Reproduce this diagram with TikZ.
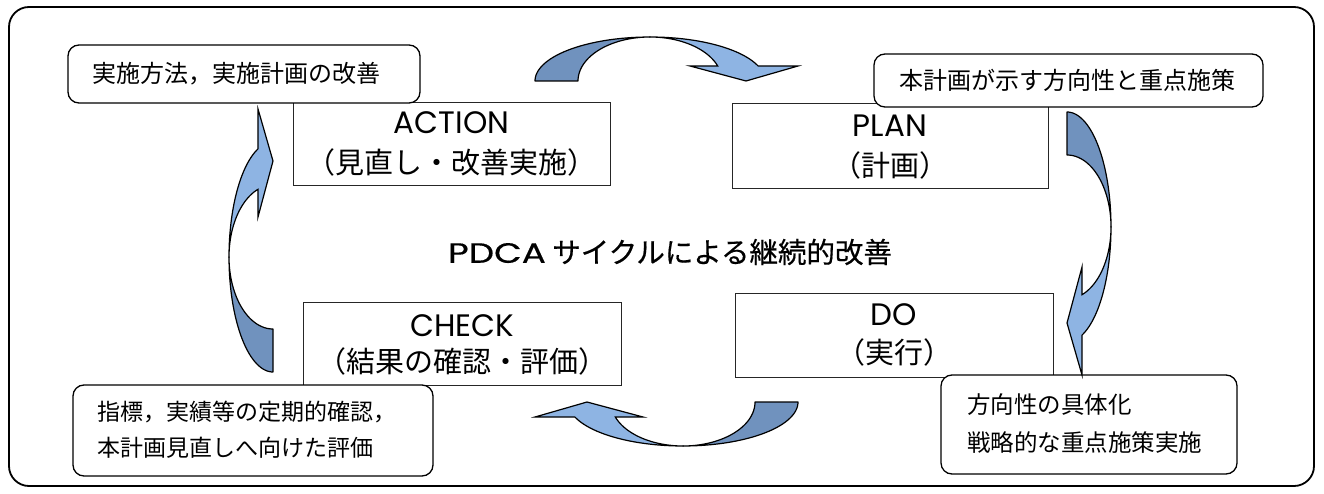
\documentclass[tikz,border=0pt]{standalone}
\usepackage{fontspec}
\setmainfont{Noto Sans CJK JP}
\newfontfamily\latfont{Poppins}
\newfontfamily\titlelat[FakeStretch=1.28,FakeBold=0.4]{Poppins}
\newfontfamily\titlecjk[FakeBold=0.5]{Noto Sans CJK JP}
\definecolor{darkb}{RGB}{112,146,190}
\definecolor{lightb}{RGB}{142,180,227}
\newcommand\fsz[1]{\fontsize{#1}{#1}\selectfont}
\newcommand\cyclearrow[3]{%
\begin{scope}[shift={#1}, x={#2}, y={#3}]
 \filldraw[darkpart] plot[domain=180:90,samples=40] ({115*cos(\x)},{44*sin(\x)}) -- plot[domain=90:180,samples=40] ({72*cos(\x)},{44*sin(\x)}) -- cycle;
 \filldraw[lightpart] plot[domain=90:20,samples=40] ({115*cos(\x)},{44*sin(\x)}) -- (148,15) -- (96,0) -- (40,15) -- plot[domain=20:90,samples=40] ({72*cos(\x)},{44*sin(\x)}) -- cycle;
\end{scope}}
\begin{document}
\begin{tikzpicture}[x=1pt,y=-1pt,
  frame/.style={draw=black, line width=1.8pt, rounded corners=20pt},
  stagebox/.style={draw=black!85, line width=1pt, fill=white, inner sep=0pt},
  notebox/.style={draw=black, line width=1.3pt, rounded corners=11pt, fill=white, inner sep=0pt},
  darkpart/.style={fill=darkb, draw=black, line width=1.2pt, line join=round},
  lightpart/.style={fill=lightb, draw=black, line width=1.2pt, line join=miter},
  lat/.style={font=\latfont\fsz{31}},
  sub/.style={font=\fsz{29}},
  note/.style={anchor=west, inner sep=0pt},
  ]
\useasboundingbox (0,0) rectangle (1324,494);
\draw[frame] (9,7) rectangle (1314,486);

% stage boxes
\node[stagebox, minimum width=317pt, minimum height=83pt] (action) at (451.5,144.5) {};
\node[stagebox, minimum width=316pt, minimum height=85pt] (plan) at (890,146.5) {};
\node[stagebox, minimum width=318pt, minimum height=83pt] (check) at (462,343.5) {};
\node[stagebox, minimum width=318pt, minimum height=84pt] (do) at (894,335) {};

\node[lat] (actiont) at (451.5,123) {ACTION};
\node[sub] (actions) at (451.5,162) {（見直し・改善実施）};
\node[lat] (plant) at (890,126) {PLAN};
\node[sub] (plans) at (890,165) {（計画）};
\node[lat] (checkt) at (462,326) {CHECK};
\node[sub] (checks) at (462,361) {（結果の確認・評価）};
\node[lat] (dot) at (894,315) {DO};
\node[sub] (dos) at (894,352) {（実行）};

% note boxes
\node[notebox, minimum width=352pt, minimum height=58pt] (na) at (244,74) {};
\node[note, font=\fsz{24}] (nat) at (92,74) {実施方法，実施計画の改善};
\node[notebox, minimum width=389pt, minimum height=53pt] (np) at (1068.5,80.5) {};
\node[font=\fsz{24}] (npt) at (1067,80) {本計画が示す方向性と重点施策};
\node[notebox, minimum width=360pt, minimum height=91pt] (nc) at (253,430.5) {};
\node[note, font=\fsz{23}] (nct1) at (97,412) {指標，実績等の定期的確認，};
\node[note, font=\fsz{23}] (nct2) at (97,448) {本計画見直しへ向けた評価};
\node[notebox, minimum width=296pt, minimum height=99pt] (nd) at (1089,424.5) {};
\node[note, font=\fsz{23.5}] (ndt1) at (967,405) {方向性の具体化};
\node[note, font=\fsz{23.5}] (ndt2) at (967,443) {戦略的な重点施策実施};

% title
\node[font=\titlecjk\fsz{28.5}] (title) at (670,252) {{\titlelat\fsz{28}PDCA} サイクルによる継続的改善};

% cycle arrows
\cyclearrow{(650,81)}{(1pt,0pt)}{(0pt,1pt)}
\cyclearrow{(1067,227)}{(0pt,-1pt)}{(1pt,0pt)}
\cyclearrow{(683,402)}{(-1pt,0pt)}{(0pt,-1pt)}
\cyclearrow{(273,257)}{(0pt,1pt)}{(-1pt,0pt)}
\end{tikzpicture}
\end{document}
